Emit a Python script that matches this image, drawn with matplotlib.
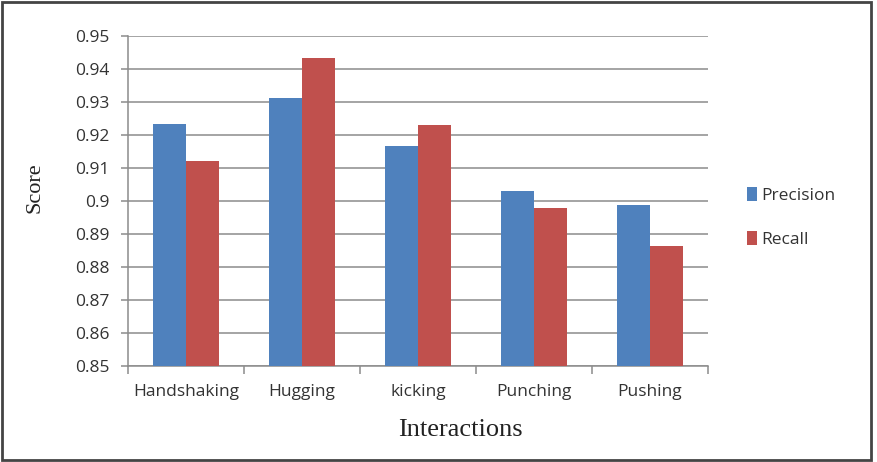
import numpy as np
import matplotlib
matplotlib.use('Agg')
import matplotlib.pyplot as plt
from matplotlib.patches import Rectangle

categories = ['Handshaking', 'Hugging', 'kicking', 'Punching', 'Pushing']
precision = [0.9233, 0.9311, 0.9168, 0.9031, 0.8988]
recall = [0.9122, 0.9432, 0.9229, 0.8979, 0.8864]
yticks = [0.85, 0.86, 0.87, 0.88, 0.89, 0.9, 0.91, 0.92, 0.93, 0.94, 0.95]
ytick_labels = ['0.85', '0.86', '0.87', '0.88', '0.89', '0.9', '0.91', '0.92', '0.93', '0.94', '0.95']

blue = '#4F81BD'
red = '#C0504D'
grid_col = '#8C8C8C'
txt_col = '#333333'
tick_font = 'Open Sans'
label_font = 'Liberation Serif'

fig = plt.figure(figsize=(8.78, 4.62), dpi=100)
ax = fig.add_axes([128/878, 96/462, 580/878, 330/462])

x = np.arange(len(categories))
w = 1/3.5
ax.bar(x - w/2, precision, w, color=blue, label='Precision', zorder=3)
ax.bar(x + w/2, recall, w, color=red, label='Recall', zorder=3)

ax.set_xlim(-0.5, len(categories) - 0.5)
ax.set_ylim(0.85, 0.95)
ax.set_yticks(yticks)
ax.set_yticklabels(ytick_labels, fontfamily=tick_font, fontsize=12.5, color=txt_col)
ax.yaxis.grid(True, color=grid_col, linewidth=1.1, zorder=0)

# category names centred, tick marks on the boundaries
ax.set_xticks(np.arange(len(categories) + 1) - 0.5)
ax.set_xticklabels([])
ax.set_xticks(x, minor=True)
ax.set_xticklabels(categories, minor=True, fontfamily=tick_font, fontsize=12.5, color=txt_col)
ax.tick_params(axis='x', which='minor', length=0, pad=13)
ax.tick_params(axis='x', which='major', length=6, color=grid_col, width=1.1)
ax.tick_params(axis='y', length=5, color=grid_col, width=1.1, pad=8)

for s in ['top', 'right']:
    ax.spines[s].set_visible(False)
for s in ['left', 'bottom']:
    ax.spines[s].set_color(grid_col)
    ax.spines[s].set_linewidth(1.1)

fig.text(35/878, 1 - 188/462, 'Score', rotation=90, ha='center', va='center',
         fontfamily=label_font, fontsize=16, color='#222222')
fig.text(460/878, 1 - 430/462, 'Interactions', ha='center', va='center',
         fontfamily=label_font, fontsize=19, color='#222222')

leg = ax.legend(loc='center left', bbox_to_anchor=(1.04, 0.45), frameon=False,
                prop={'family': tick_font, 'size': 12.5}, handlelength=0.6,
                handleheight=0.9, handletextpad=0.25, labelspacing=1.55)
for t in leg.get_texts():
    t.set_color(txt_col)

fig.patches.append(Rectangle((2/878, 2/462), 869/878, 458/462, transform=fig.transFigure,
                             fill=False, edgecolor='#444444', linewidth=2))

fig.savefig('out.png', dpi=100)
